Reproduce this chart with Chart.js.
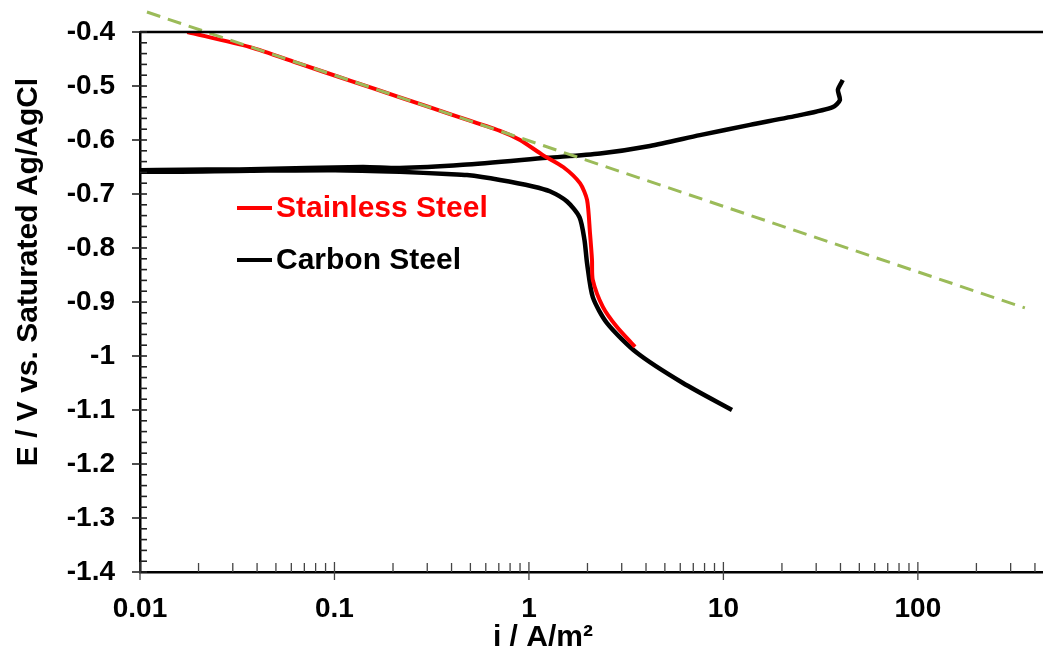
<!DOCTYPE html>
<html>
<head>
<meta charset="utf-8">
<script src="https://cdn.jsdelivr.net/npm/chart.js@4.4.1/dist/chart.umd.min.js"></script>
<style>
  html, body { margin: 0; padding: 0; background: #fff; }
  #wrap { width: 1043px; height: 646px; }
</style>
</head>
<body>
<div id="wrap"><canvas id="polChart" width="1043" height="646"></canvas></div>
<script>
// current density i (A/m2) and potential E (V vs. sat. Ag/AgCl)
const stainlessI = [0.0175, 0.0368, 0.0665, 0.120, 0.217, 0.393, 0.710, 0.90, 1.18, 1.50, 1.83, 1.99, 2.06, 2.11, 2.13, 2.40, 2.83, 3.51];
const stainlessE = [-0.400, -0.428, -0.459, -0.490, -0.521, -0.552, -0.583, -0.600, -0.628, -0.650, -0.680, -0.711, -0.772, -0.822, -0.859, -0.909, -0.946, -0.983];

// carbon steel: cathodic branch from the bottom end up to 0.01, then the anodic branch
const carbonI = [11.07, 6.19, 3.59, 2.52, 2.13, 1.99, 1.93, 1.82, 1.57, 1.28, 1.05, 0.71, 0.48, 0.378, 0.217, 0.1007, 0.037, 0.01,
                 0.01, 0.037, 0.140, 0.217, 0.458, 1.24, 2.32, 4.19, 7.57, 13.7, 24.7, 36.5, 39.7, 38.8, 41.1];
const carbonE = [-1.100, -1.050, -0.994, -0.939, -0.891, -0.828, -0.785, -0.743, -0.714, -0.695, -0.686, -0.674, -0.665, -0.663, -0.659, -0.656, -0.657, -0.659,
                 -0.656, -0.654, -0.650, -0.652, -0.646, -0.633, -0.625, -0.611, -0.591, -0.572, -0.554, -0.539, -0.526, -0.507, -0.489];

// Tafel extrapolation (dashed)
const tafelI = [0.01086, 355];
const tafelE = [-0.363, -0.911];

const seriesNames = ['Stainless Steel', 'Carbon Steel'];
const xTickValues = [0.01, 0.1, 1, 10, 100];
const xTitle = 'i / A/m\u00B2';
const yTitle = 'E / V vs. Saturated Ag/AgCl';

const FONT = "'Liberation Sans', Arial, sans-serif";

function pts(xs, ys) {
    return xs.map((v, i) => ({ x: v, y: ys[i] }));
}

// ticks, frame, legend and axis titles
const decor = {
    id: 'decor',
    afterDraw(chart) {
        const { ctx, chartArea: ca, scales: { x, y } } = chart;
        ctx.save();

        ctx.strokeStyle = '#000';
        ctx.lineWidth = 2.5;
        ctx.beginPath();
        ctx.moveTo(ca.left, ca.top);
        ctx.lineTo(ca.right, ca.top);
        ctx.stroke();

        // y ticks: major 0.1 crossing the axis, minor 0.02 inside
        ctx.lineWidth = 1.6;
        ctx.strokeStyle = '#222';
        for (let k = 0; k <= 50; k++) {
            const py = y.getPixelForValue(y.min + k * 0.02);
            ctx.beginPath();
            if (k % 5 === 0) { ctx.moveTo(ca.left - 8, py); ctx.lineTo(ca.left + 7, py); }
            else { ctx.moveTo(ca.left, py); ctx.lineTo(ca.left + 7, py); }
            ctx.stroke();
        }
        // x ticks: decades crossing, 2..9 inside
        ctx.lineWidth = 1.3;
        ctx.strokeStyle = '#444';
        for (let d = -2; d <= 2; d++) {
            for (let m = 1; m <= 9; m++) {
                const v = m * Math.pow(10, d);
                if (v > x.max) continue;
                const px = x.getPixelForValue(v);
                ctx.beginPath();
                if (m === 1) { ctx.moveTo(px, ca.bottom - 10); ctx.lineTo(px, ca.bottom + 8); }
                else { ctx.moveTo(px, ca.bottom - 9); ctx.lineTo(px, ca.bottom); }
                ctx.stroke();
            }
        }

        // legend inside the plot
        ctx.font = 'bold 30px ' + FONT;
        ctx.textBaseline = 'middle';
        ctx.textAlign = 'left';
        chart.data.datasets.filter(ds => ds.inLegend).forEach((ds, i) => {
            const ly = ca.top + 176 + i * 52;
            ctx.strokeStyle = ds.borderColor;
            ctx.lineWidth = 4;
            ctx.beginPath();
            ctx.moveTo(ca.left + 97, ly);
            ctx.lineTo(ca.left + 132, ly);
            ctx.stroke();
            ctx.fillStyle = ds.borderColor;
            ctx.fillText(ds.label, ca.left + 136, ly + 1);
        });

        // axis titles
        ctx.fillStyle = '#000';
        ctx.textAlign = 'center';
        ctx.textBaseline = 'alphabetic';
        ctx.fillText(xTitle, x.getPixelForValue(1) + 14, 646);
        ctx.translate(37, 272);
        ctx.rotate(-Math.PI / 2);
        ctx.fillText(yTitle, 0, 0);
        ctx.restore();
    }
};

new Chart(document.getElementById('polChart'), {
    type: 'scatter',
    data: {
        datasets: [
            {
                label: seriesNames[0],
                inLegend: true,
                data: pts(stainlessI, stainlessE),
                showLine: true,
                borderColor: '#ff0000',
                borderWidth: 4,
                pointRadius: 0,
                tension: 0.25,
                order: 1
            },
            {
                label: seriesNames[1],
                inLegend: true,
                data: pts(carbonI, carbonE),
                showLine: true,
                borderColor: '#000000',
                borderWidth: 4.5,
                pointRadius: 0,
                tension: 0.25,
                order: 2
            },
            {
                label: 'Tafel',
                data: pts(tafelI, tafelE),
                showLine: true,
                borderColor: '#9bbb59',
                borderWidth: 3,
                borderDash: [14, 8],
                pointRadius: 0,
                clip: false,
                order: 0
            }
        ]
    },
    options: {
        responsive: false,
        animation: false,
        layout: { padding: { top: 32, right: 0, left: 0, bottom: 0 } },
        plugins: { legend: { display: false }, tooltip: { enabled: false } },
        scales: {
            x: {
                type: 'logarithmic',
                min: 0.01,
                max: 440,
                grid: { display: false, drawTicks: true, tickLength: 20 },
                border: { display: true, color: '#000', width: 2.5 },
                afterBuildTicks: s => { s.ticks = xTickValues.map(v => ({ value: v })); },
                afterFit: s => { s.height = 74; },
                ticks: {
                    color: '#000',
                    font: { family: FONT, size: 28, weight: 'bold' },
                    padding: 0,
                    maxRotation: 0,
                    autoSkip: false,
                    callback: v => String(v)
                }
            },
            y: {
                min: -1.4,
                max: -0.4,
                grid: { display: false, drawTicks: true, tickLength: 25 },
                border: { display: true, color: '#000', width: 2.5 },
                afterFit: s => { s.width = 140; },
                ticks: {
                    stepSize: 0.1,
                    color: '#000',
                    font: { family: FONT, size: 28, weight: 'bold' },
                    padding: 0,
                    callback: v => String(Number(v.toFixed(1)))
                }
            }
        }
    },
    plugins: [decor]
});
</script>
</body>
</html>
